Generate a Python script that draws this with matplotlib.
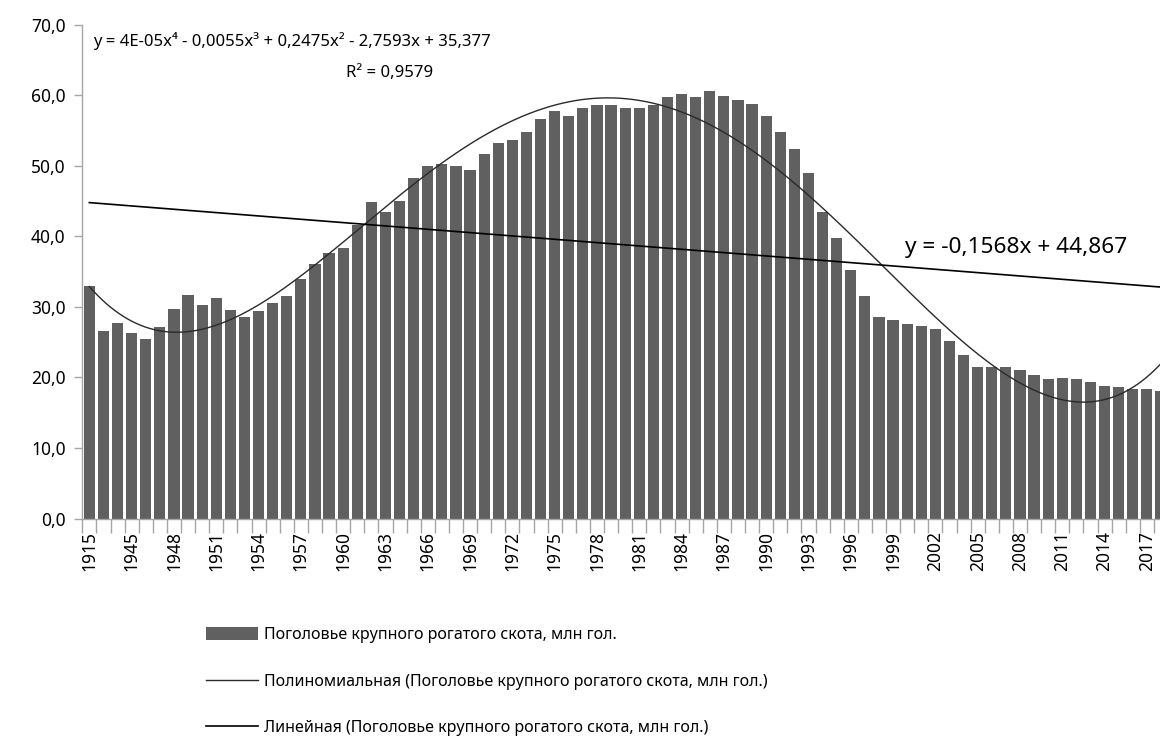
import numpy as np
import matplotlib
matplotlib.use('Agg')
import matplotlib.pyplot as plt
from matplotlib.patches import Patch
from matplotlib.lines import Line2D

plt.rcParams['font.family'] = ['Noto Sans', 'DejaVu Sans']

# categories: 1915, two unlabelled early years, then 1945..2018
years = ['1915', '1928', '1941'] + [str(y) for y in range(1945, 2019)]
cattle = [33.0, 26.6, 27.7, 26.3, 25.4, 27.2, 29.7, 31.6, 30.3, 31.2,
          29.5, 28.5, 29.4, 30.5, 31.5, 33.9, 36.1, 37.6, 38.3, 41.6,
          44.8, 43.4, 45.0, 48.3, 49.9, 50.2, 49.9, 49.4, 51.7, 53.2,
          53.7, 54.8, 56.6, 57.7, 57.0, 58.1, 58.6, 58.6, 58.1, 58.1,
          58.6, 59.7, 60.1, 59.7, 60.6, 59.9, 59.3, 58.8, 57.0, 54.8,
          52.3, 49.0, 43.4, 39.7, 35.2, 31.5, 28.5, 28.1, 27.5, 27.3,
          26.8, 25.2, 23.1, 21.5, 21.5, 21.5, 21.0, 20.4, 19.7, 19.9,
          19.7, 19.4, 18.8, 18.7, 18.3, 18.3, 18.1]
y_ticks = [0, 10, 20, 30, 40, 50, 60, 70]

series_name = 'Поголовье крупного рогатого скота, млн гол.'
poly_eq = 'y = 4E-05x⁴ - 0,0055x³ + 0,2475x² - 2,7593x + 35,377'
poly_r2 = 'R² = 0,9579'
lin_eq = 'y = -0,1568x + 44,867'

W, H = 1160, 740
fig = plt.figure(figsize=(W / 100, H / 100), dpi=100)
left, right, top, bottom = 82.3, 1168.0, 24.5, 518.5
ax = fig.add_axes([left / W, 1 - bottom / H, (right - left) / W, (bottom - top) / H])

x = np.arange(len(cattle))
vals = np.array(cattle)
ax.bar(x, vals, width=0.8, color='#606060', zorder=2)

# Excel-style trend lines, x counted from 1
xn = x + 1
xs = np.linspace(1, len(cattle), 500)
p4 = np.polyfit(xn, vals, 4)
p1 = np.polyfit(xn, vals, 1)
ax.plot(xs - 1, np.polyval(p4, xs), color='#2a2a2a', lw=1.0, zorder=3)
ax.plot(xs - 1, np.polyval(p1, xs), color='black', lw=1.2, zorder=3)

ax.set_xlim(-0.5, len(cattle) - 0.5)
ax.set_ylim(0, 70)
ax.set_yticks(y_ticks)
ax.set_yticklabels([f'{v:.1f}'.replace('.', ',') for v in y_ticks], fontsize=12.5)

lab_idx = list(range(0, len(cattle), 3))
ax.set_xticks(lab_idx)
ax.set_xticklabels([years[i] for i in lab_idx], rotation=90, fontsize=12.5, va='top')
ax.set_xticks(np.arange(len(cattle) + 1) - 0.5, minor=True)
ax.tick_params(axis='x', which='major', length=0, pad=9)
ax.tick_params(axis='x', which='minor', length=10, color='#a6a6a6', width=1)
ax.tick_params(axis='y', length=6, color='#a6a6a6', width=1, pad=6)

for s in ['top', 'right']:
    ax.spines[s].set_visible(False)
for s in ['left', 'bottom']:
    ax.spines[s].set_color('#a6a6a6')
    ax.spines[s].set_linewidth(1)

fig.text(292 / W, 1 - 41 / H, poly_eq, fontsize=12, ha='center', va='center')
fig.text(390 / W, 1 - 73 / H, poly_r2, fontsize=12, ha='center', va='center')
fig.text(1016 / W, 1 - 247 / H, lin_eq, fontsize=16.3, ha='center', va='center')

handles = [Patch(facecolor='#606060', edgecolor='none'),
           Line2D([], [], color='#2a2a2a', lw=1.0),
           Line2D([], [], color='black', lw=1.2)]
labels = [series_name,
          'Полиномиальная (' + series_name + ')',
          'Линейная (' + series_name + ')']
fig.legend(handles, labels, loc='upper left', bbox_to_anchor=(206 / W, 1 - 627 / H),
           frameon=False, fontsize=11.5, handlelength=3.25, handleheight=0.9,
           handletextpad=0.4, labelspacing=1.9, borderpad=0, borderaxespad=0)

fig.savefig('out.png', dpi=100)
